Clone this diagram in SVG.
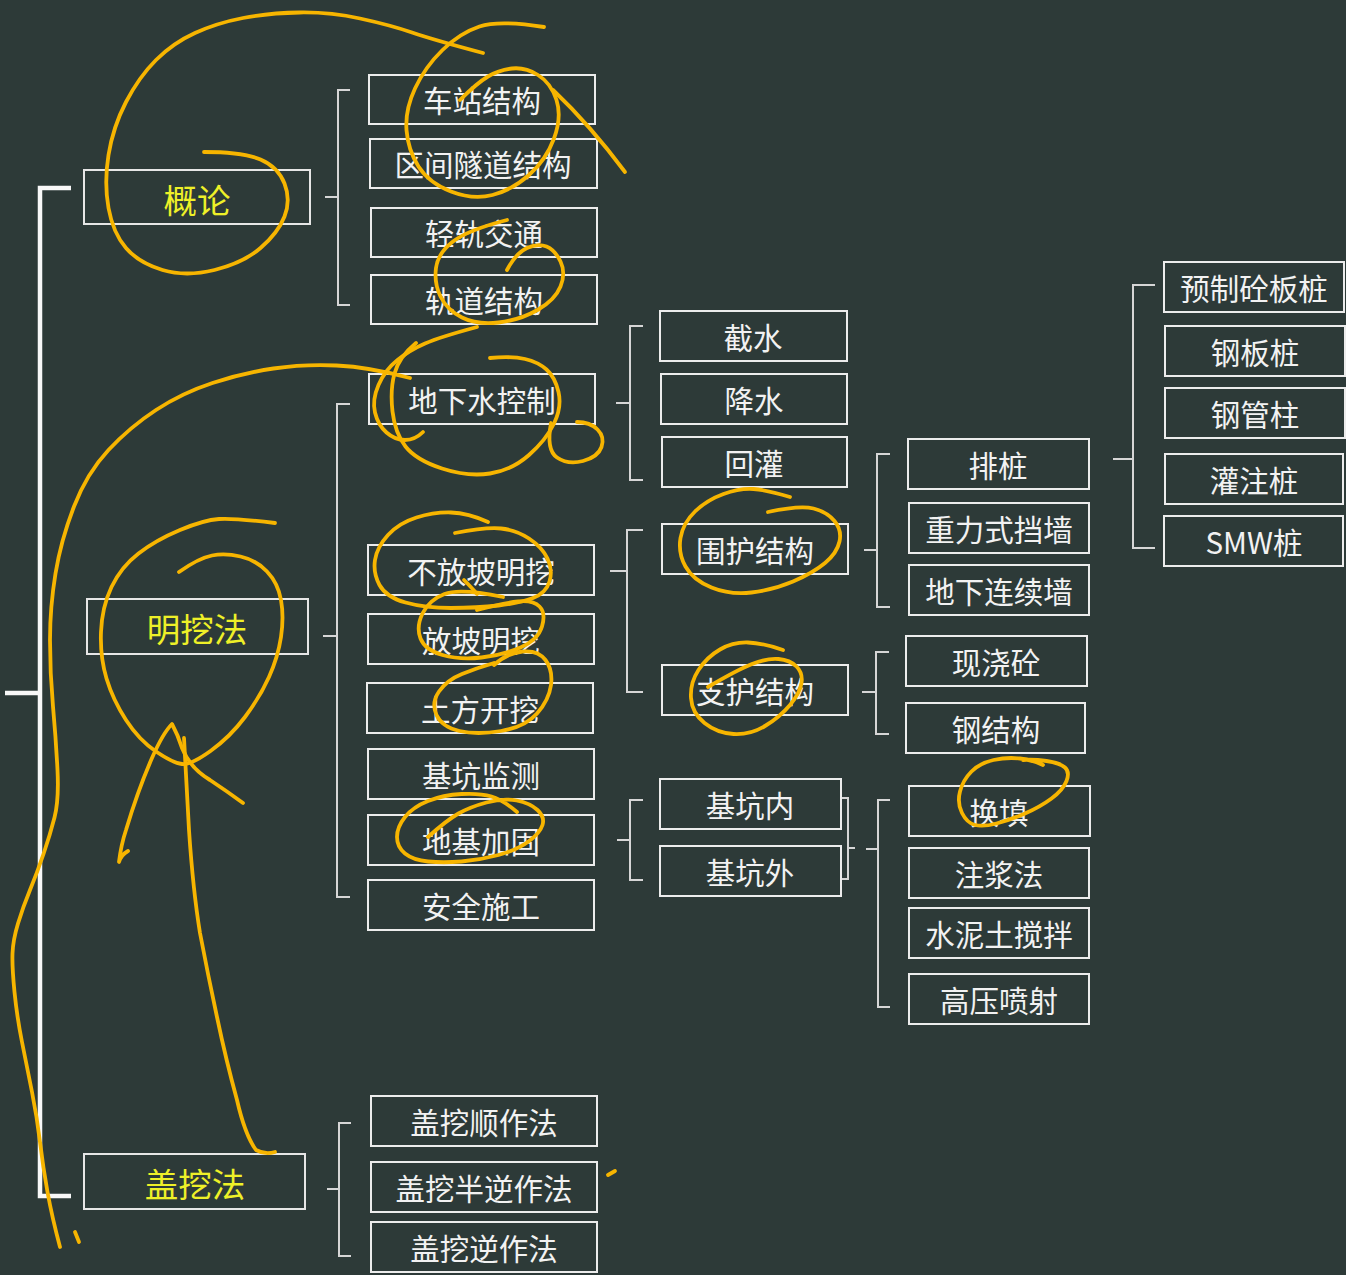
<svg xmlns="http://www.w3.org/2000/svg" width="1346" height="1275" viewBox="0 0 1346 1275">
<defs>
<style>
.bg{fill:#2d3a38}
.box rect{fill:none;stroke:#ececec;stroke-width:2}
.box text{fill:#f2f2f2;font-family:"Noto Sans CJK SC","Microsoft YaHei",sans-serif;font-size:29.5px;text-anchor:middle;dominant-baseline:central}
.top rect{fill:none;stroke:#e6e6e6;stroke-width:2}
.top text{fill:#eef028;font-family:"Noto Sans CJK SC","Microsoft YaHei",sans-serif;font-size:33.5px;text-anchor:middle;dominant-baseline:central}
.br{fill:none;stroke:#d6d6d6;stroke-width:2}
.main{fill:none;stroke:#f8f8f8;stroke-width:4.5}
.ink{fill:none;stroke:#f7b500;stroke-width:3.8;stroke-linecap:round;stroke-linejoin:round}
</style>
</defs>
<rect class="bg" x="0" y="0" width="1346" height="1275"/>

<g id="connectors">
<path class="main" d="M71,188 H40 V1196 H71 M5,693 H40"/>
<path class="br" d="M325,197 H338 M350,90 H338 V305 H350"/>
<path class="br" d="M323,636 H337 M350,404 H337 V897 H350"/>
<path class="br" d="M327,1189 H339 M351,1123 H339 V1256 H351"/>
<path class="br" d="M616,403 H630 M643,326 H630 V480 H643"/>
<path class="br" d="M610,571 H627 M643,530 H627 V692 H643"/>
<path class="br" d="M864,550 H877 M890,454 H877 V607 H890"/>
<path class="br" d="M1113,459 H1133 M1155,285 H1133 V548 H1155"/>
<path class="br" d="M862,692 H876 M889,652 H876 V734 H889"/>
<path class="br" d="M617,840 H630 M643,800 H630 V880 H643"/>
<path class="br" d="M842,798 H848 V879 H842 M848,848 H855"/>
<path class="br" d="M866,849 H878 M890,800 H878 V1007 H890"/>
</g>

<g id="n-gailun" class="top"><rect x="84" y="170" width="226" height="54"/><text x="197" y="198">概论</text></g>
<g id="n-mingwa" class="top"><rect x="87" y="599" width="221" height="55"/><text x="197" y="627">明挖法</text></g>
<g id="n-gaiwa" class="top"><rect x="84" y="1154" width="221" height="55"/><text x="195" y="1182">盖挖法</text></g>

<g id="n-chezhan" class="box"><rect x="369" y="75" width="226" height="49"/><text x="482" y="99">车站结构</text></g>
<g id="n-qujian" class="box"><rect x="370" y="139" width="227" height="49"/><text x="483" y="163">区间隧道结构</text></g>
<g id="n-qinggui" class="box"><rect x="371" y="208" width="226" height="49"/><text x="484" y="232">轻轨交通</text></g>
<g id="n-guidao" class="box"><rect x="371" y="275" width="226" height="49"/><text x="484" y="299">轨道结构</text></g>

<g id="n-dixiashui" class="box"><rect x="369" y="374" width="226" height="50"/><text x="482" y="399">地下水控制</text></g>
<g id="n-bufangpo" class="box"><rect x="368" y="545" width="226" height="50"/><text x="481" y="570">不放坡明挖</text></g>
<g id="n-fangpo" class="box"><rect x="368" y="614" width="226" height="50"/><text x="481" y="639">放坡明挖</text></g>
<g id="n-tufang" class="box"><rect x="367" y="683" width="226" height="50"/><text x="480" y="708">土方开挖</text></g>
<g id="n-jiance" class="box"><rect x="368" y="749" width="226" height="50"/><text x="481" y="774">基坑监测</text></g>
<g id="n-jiagu" class="box"><rect x="368" y="815" width="226" height="50"/><text x="481" y="840">地基加固</text></g>
<g id="n-anquan" class="box"><rect x="368" y="880" width="226" height="50"/><text x="481" y="905">安全施工</text></g>

<g id="n-jieshui" class="box"><rect x="660" y="311" width="187" height="50"/><text x="753" y="336">截水</text></g>
<g id="n-jiangshui" class="box"><rect x="661" y="374" width="186" height="50"/><text x="754" y="399">降水</text></g>
<g id="n-huiguan" class="box"><rect x="662" y="437" width="185" height="50"/><text x="754" y="462">回灌</text></g>

<g id="n-weihu" class="box"><rect x="662" y="524" width="186" height="50"/><text x="755" y="549">围护结构</text></g>
<g id="n-zhihu" class="box"><rect x="662" y="665" width="186" height="50"/><text x="755" y="690">支护结构</text></g>

<g id="n-paizhuang" class="box"><rect x="908" y="439" width="181" height="50"/><text x="998" y="464">排桩</text></g>
<g id="n-zhongli" class="box"><rect x="909" y="503" width="180" height="50"/><text x="999" y="528">重力式挡墙</text></g>
<g id="n-dilian" class="box"><rect x="909" y="565" width="180" height="50"/><text x="999" y="590">地下连续墙</text></g>

<g id="n-yuzhi" class="box"><rect x="1164" y="262" width="180" height="50"/><text x="1254" y="287">预制砼板桩</text></g>
<g id="n-gangban" class="box"><rect x="1165" y="326" width="180" height="50"/><text x="1255" y="351">钢板桩</text></g>
<g id="n-gangguan" class="box"><rect x="1165" y="388" width="180" height="50"/><text x="1255" y="413">钢管柱</text></g>
<g id="n-guanzhu" class="box"><rect x="1165" y="454" width="178" height="50"/><text x="1254" y="479">灌注桩</text></g>
<g id="n-smw" class="box"><rect x="1164" y="516" width="179" height="50"/><text x="1254" y="541">SMW桩</text></g>

<g id="n-xianjiao" class="box"><rect x="906" y="636" width="181" height="50"/><text x="996" y="661">现浇砼</text></g>
<g id="n-gangjiegou" class="box"><rect x="906" y="703" width="179" height="50"/><text x="996" y="728">钢结构</text></g>

<g id="n-kengnei" class="box"><rect x="660" y="779" width="181" height="50"/><text x="750" y="804">基坑内</text></g>
<g id="n-kengwai" class="box"><rect x="660" y="846" width="181" height="50"/><text x="750" y="871">基坑外</text></g>

<g id="n-huantian" class="box"><rect x="909" y="786" width="181" height="50"/><text x="999" y="811">换填</text></g>
<g id="n-zhujiang" class="box"><rect x="909" y="848" width="180" height="50"/><text x="999" y="873">注浆法</text></g>
<g id="n-shuini" class="box"><rect x="909" y="908" width="180" height="50"/><text x="999" y="933">水泥土搅拌</text></g>
<g id="n-gaoya" class="box"><rect x="909" y="974" width="180" height="50"/><text x="999" y="999">高压喷射</text></g>

<g id="n-shunzuo" class="box"><rect x="371" y="1096" width="226" height="50"/><text x="484" y="1121">盖挖顺作法</text></g>
<g id="n-banni" class="box"><rect x="371" y="1162" width="226" height="50"/><text x="484" y="1187">盖挖半逆作法</text></g>
<g id="n-nizuo" class="box"><rect x="371" y="1222" width="226" height="50"/><text x="484" y="1247">盖挖逆作法</text></g>

<g id="annotations">
<path class="ink" d="M483,53 Q434,40 412,32.5 Q390,25 360,18.5 Q330,12 299.5,12.5 Q269,13 243,18 Q217,23 195,33 Q173,43 156,60 Q139,77 126,102 Q113,127 108.5,155 Q104,183 108.5,208 Q113,233 126,248 Q139,263 162.5,270 Q186,277 214.5,270 Q243,263 260.5,248 Q278,233 284.5,216.5 Q291,200 284.5,183.5 Q278,167 260.5,159.5 Q243,152 204,152"/>
<path class="ink" d="M544,27 Q499,20 479.5,26.5 Q460,33 442.5,50 Q425,67 415,88.5 Q405,110 406.5,130 Q408,150 418.5,166.5 Q429,183 451,191.5 Q473,200 492.5,195 Q512,190 529,175 Q546,160 554,138.5 Q562,117 556.5,100 Q551,83 538,75 Q525,67 512,68.5 Q499,70 488,76.5 Q477,83 460,100"/>
<path class="ink" d="M553,90 Q590,125 625,172"/>
<path class="ink" d="M507,220 Q468,230 453,241.5 Q438,253 436,268 Q434,283 440.5,296.5 Q447,310 462,317.5 Q477,325 498.5,322.5 Q520,320 537.5,310 Q555,300 560.5,286.5 Q566,273 560.5,261.5 Q555,250 546.5,246.5 Q538,243 527,248 Q516,253 507,270"/>
<path class="ink" d="M477,327 Q440,337 425,343.5 Q410,350 397.5,360 Q385,370 378.5,385 Q372,400 375,412.5 Q378,425 386.5,432.5 Q395,440 405,440 Q415,440 423,432"/>
<path class="ink" d="M416,343 Q399,357 394.5,373.5 Q390,390 392.5,411.5 Q395,433 405.5,446.5 Q416,460 442,468.5 Q468,477 490,473.5 Q512,470 529,455 Q546,440 554,423.5 Q562,407 558.5,392 Q555,377 546.5,369.5 Q538,362 525,359 Q512,356 490,358"/>
<path class="ink" d="M551,423 Q546,450 557,457.5 Q568,465 583,461 Q598,457 601.5,447 Q605,437 597.5,429.5 Q590,422 577,422"/>
<path class="ink" d="M410,378 Q369,367 336.5,365.5 Q304,364 273.5,368.5 Q243,373 212.5,383 Q182,393 156,410 Q130,427 108.5,450 Q87,473 74,506.5 Q61,540 55.5,573.5 Q50,607 50,640 Q50,673 53,706.5 Q56,740 57.5,770 Q59,800 54.5,817.5 Q50,835 43.5,854 Q37,873 30,890 Q23,907 18,923.5 Q13,940 12.5,953.5 Q12,967 14.5,992 Q17,1017 22,1042 Q27,1067 32,1092 Q37,1117 40,1142 Q43,1167 47.5,1192 Q52,1217 60,1247"/>
<path class="ink" d="M75,1232 L79,1242"/>
<path class="ink" d="M275,523 Q234,518 219,519 Q204,520 180,530 Q156,540 138.5,553.5 Q121,567 111.5,587 Q102,607 101,632 Q100,657 106.5,678.5 Q113,700 126,720 Q139,740 156,751.5 Q173,763 182,764 Q191,765 210.5,751 Q230,737 245,717 Q260,697 269,677 Q278,657 281,637 Q284,617 281,600 Q278,583 267,571.5 Q256,560 240.5,556.5 Q225,553 212,555.5 Q199,558 179,572"/>
<path class="ink" d="M128,851 Q121,855 119,862 Q121,845 126,830 Q138,790 152,758 Q163,733 172,724 Q178,735 182,748 Q190,768 210,780 Q228,792 243,803"/>
<path class="ink" d="M184,738 Q187,790 189,830 Q193,890 200,933 Q208,975 217,1017 Q226,1060 237,1100 Q245,1135 256,1150 Q265,1155 275,1152"/>
<path class="ink" d="M488,522 Q468,513 451,512.5 Q434,512 416.5,517.5 Q399,523 388,535 Q377,547 375,560 Q373,573 379.5,585 Q386,597 405.5,602.5 Q425,608 451,608 Q477,608 498.5,605.5 Q520,603 533,598 Q546,593 549.5,581.5 Q553,570 547.5,558.5 Q542,547 529,538.5 Q516,530 501,528.5 Q486,527 455,533"/>
<path class="ink" d="M464,580 Q472,588 477,594"/>
<path class="ink" d="M503,597 Q460,588 444.5,594 Q429,600 422.5,613.5 Q416,627 420.5,638.5 Q425,650 442.5,655 Q460,660 481.5,657.5 Q503,655 520.5,647.5 Q538,640 542,626.5 Q546,613 539.5,606.5 Q533,600 518,601.5 Q503,603 477,610"/>
<path class="ink" d="M494,665 Q507,653 522.5,651.5 Q538,650 545.5,660 Q553,670 551,685 Q549,700 537,713.5 Q525,727 501,731 Q477,735 459.5,731 Q442,727 436.5,715 Q431,703 439,691.5 Q447,680 462,674 Q477,668 494,663"/>
<path class="ink" d="M517,812 Q503,800 491.5,796.5 Q480,793 461.5,794 Q443,795 428,801 Q413,807 405,817 Q397,827 397,837 Q397,847 405,853.5 Q413,860 428,861.5 Q443,863 461.5,861.5 Q480,860 498.5,855 Q517,850 528.5,841.5 Q540,833 542.5,825 Q545,817 537.5,810 Q530,803 516.5,800.5 Q503,798 486.5,802.5 Q470,807 458.5,813.5 Q447,820 428,837"/>
<path class="ink" d="M790,497 Q767,490 753.5,489 Q740,488 723.5,494 Q707,500 695,511.5 Q683,523 680.5,538 Q678,553 685.5,566.5 Q693,580 711.5,587.5 Q730,595 751.5,592.5 Q773,590 793,581.5 Q813,573 825,563 Q837,553 839.5,541.5 Q842,530 834.5,521 Q827,512 813.5,508.5 Q800,505 768,512"/>
<path class="ink" d="M783,650 Q763,643 748,642.5 Q733,642 720,649.5 Q707,657 698.5,670 Q690,683 691,698 Q692,713 704.5,723 Q717,733 733.5,734 Q750,735 765,726 Q780,717 790,705 Q800,693 801.5,683 Q803,673 796.5,666.5 Q790,660 778.5,659 Q767,658 752,664 Q737,670 708,687"/>
<path class="ink" d="M1043,765 Q1033,760 1020,758.5 Q1007,757 993.5,760 Q980,763 971.5,771.5 Q963,780 960,791.5 Q957,803 962,813 Q967,823 975,825 Q983,827 996.5,823.5 Q1010,820 1025,813.5 Q1040,807 1051.5,798.5 Q1063,790 1066.5,781 Q1070,772 1065,767.5 Q1060,763 1046.5,761 Q1033,759 1023,760"/>
<path class="ink" d="M608,1175 L615,1171"/>
</g>
</svg>
